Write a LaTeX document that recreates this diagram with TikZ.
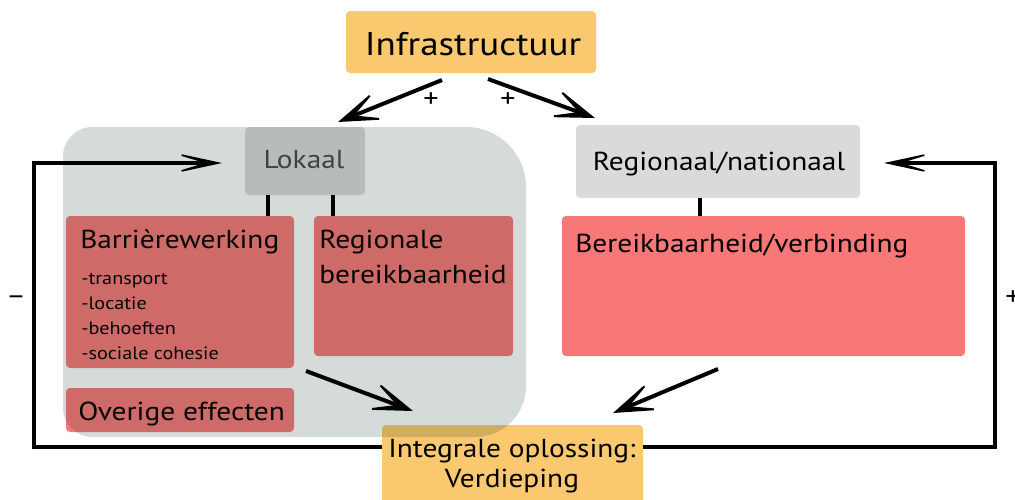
\documentclass[tikz,border=0pt]{standalone}
\usepackage{fontspec}
\setmainfont{PT Sans}[FakeStretch=1.13]
\usetikzlibrary{arrows.meta}
\definecolor{orng}{HTML}{FAC86E}
\definecolor{redb}{HTML}{F77877}
\definecolor{lgray}{HTML}{DADADA}
\definecolor{ovl}{RGB}{8,43,32}
\definecolor{lok}{HTML}{4A4A4A}
\begin{document}
\begin{tikzpicture}[x=0.75pt,y=-0.75pt,
  box/.style={draw=none, rounded corners=3pt, inner sep=0, anchor=north west, outer sep=0},
  lbl/.style={inner sep=0, anchor=base west, text=black, font=\fontsize{19.5pt}{23pt}\selectfont},
  clbl/.style={lbl, anchor=base},
  sub/.style={inner sep=0, anchor=base west, text=black, font=\fontsize{13.4pt}{16pt}\selectfont},
  sign/.style={inner sep=0, anchor=center, font=\fontsize{20pt}{22pt}\selectfont},
  link/.style={line width=3.5pt},
  arr/.style={line width=3pt, -{Stealth[length=38pt,width=26pt,inset=25pt,line width=1.4pt]}},
  loop/.style={line width=2.6pt, -{Stealth[length=44pt,width=19pt,inset=31pt,line width=1.2pt]}}
]
\useasboundingbox (0,0) rectangle (1015,500);
% boxes
\node[box, fill=orng, minimum width=187.5pt, minimum height=46.5pt] (infra) at (346,11) {};
\node[box, fill=lgray, minimum width=90pt, minimum height=51pt] (lokaal) at (245,127) {};
\node[box, fill=lgray, minimum width=213pt, minimum height=54.75pt] (regnat) at (576,125) {};
\node[box, fill=redb, minimum width=171pt, minimum height=114pt] (barr) at (66,216) {};
\node[box, fill=redb, minimum width=149.25pt, minimum height=105pt] (regbe) at (314,216) {};
\node[box, fill=redb, minimum width=171pt, minimum height=33pt] (overig) at (66,388) {};
\node[box, fill=redb, minimum width=302.25pt, minimum height=105pt] (bereik) at (562,216) {};
\node[box, fill=orng, minimum width=195.75pt, minimum height=63.75pt] (integ) at (382,425) {};
% texts
\node[clbl, font=\fontsize{24.6pt}{28pt}\selectfont] (tinfra) at (473,55) {Infrastructuur};
\node[clbl, text=lok] (tlok) at (304,168) {Lokaal};
\node[clbl] (tregnat) at (719,170) {Regionaal/nationaal};
\node[lbl] (tbarr) at (80,248) {Barrièrewerking};
\node[sub] (s1) at (81,284) {-transport};
\node[sub] (s2) at (81,309) {-locatie};
\node[sub] (s3) at (81,334) {-behoeften};
\node[sub] (s4) at (81,359) {-sociale cohesie};
\node[lbl] (tregbe1) at (319,248) {Regionale};
\node[lbl] (tregbe2) at (319,283) {bereikbaarheid};
\node[lbl] (toverig) at (78,420) {Overige effecten};
\node[lbl] (tbereik) at (575,252) {Bereikbaarheid/verbinding};
\node[clbl] (tint1) at (512,457) {Integrale oplossing:};
\node[clbl] (tint2) at (512,487) {Verdieping};
% overlay region
\fill[ovl, fill opacity=0.17] (63,280) [rounded corners=22pt] -- (63,127) [rounded corners=45pt] -- (526,127) [rounded corners=38pt] -- (526,437) [rounded corners=22pt] -- (63,437) -- cycle;
% links
\draw[link] (lokaal.south -| 268,0) -- (barr.north -| 268,0);
\draw[link] (lokaal.south -| 333,0) -- (regbe.north -| 333,0);
\draw[link] (regnat.south -| 700,0) -- (bereik.north -| 700,0);
% arrows
\coordinate (a1s) at (442,80);
\coordinate (a1e) at (338,122);
\coordinate (a2s) at (488,79);
\coordinate (a2e) at (595,118);
\coordinate (a3s) at (306,371);
\coordinate (a3e) at (413,411);
\coordinate (a4s) at (718,369);
\coordinate (a4e) at (613,413);
\draw[arr] (a1s) -- (a1e);
\draw[arr] (a2s) -- (a2e);
\draw[arr] (a3s) -- (a3e);
\draw[arr] (a4s) -- (a4e);
\coordinate (l1e) at (222,163);
\coordinate (l2e) at (884,163);
\draw[loop] (integ.west |- 0,447) -- (34,447) -- (34,163) -- (l1e);
\draw[loop] (integ.east |- 0,447) -- (995,447) -- (995,163) -- (l2e);
% signs
\node[sign] (p1) at (431,100) {+};
\node[sign] (p2) at (508,100) {+};
\node[sign] (m1) at (16,300) {–};
\node[sign] (p3) at (1013,298) {+};
\end{tikzpicture}
\end{document}
